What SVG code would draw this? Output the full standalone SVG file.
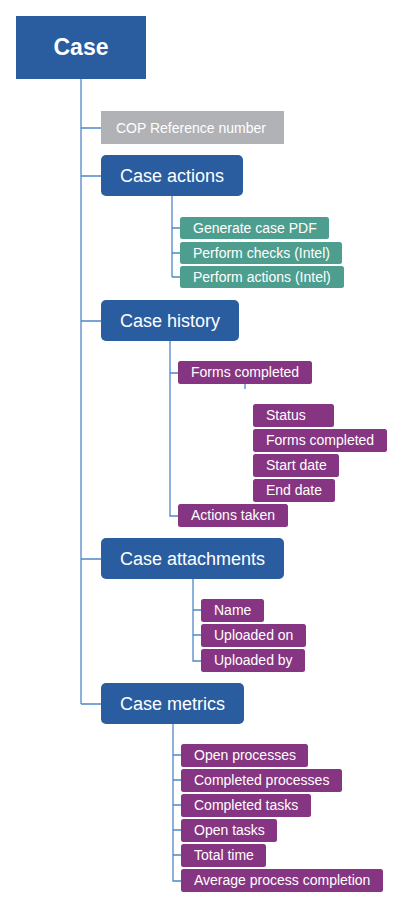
<svg xmlns="http://www.w3.org/2000/svg" width="403" height="908" viewBox="0 0 403 908">
<style>
.l{fill:none;stroke:#4f87c6;stroke-width:1.3}
.blue{fill:#2a5d9f}
.green{fill:#4e9e8f}
.purple{fill:#863582}
.gray{fill:#b1b2b5}
text{font-family:"Liberation Sans",Arial,sans-serif;fill:#fff}
.h{font-size:18px}
.s{font-size:14px}
.t{font-size:23px;font-weight:bold}
</style>
<rect width="403" height="908" fill="#fff"/>
<g id="connectors">
<path class="l" d="M81 79V704M81 128H101M81 176H101M81 321H101M81 559H101M81 704H101"/>
<path class="l" d="M172 196V277M172 228H180M172 253H180M172 277H180"/>
<path class="l" d="M170 341V516H178M170 373H178M245 384V389"/>
<path class="l" d="M193 579V661H201M193 610H201M193 635H201"/>
<path class="l" d="M173 724V881H181M173 755H181M173 780H181M173 805H181M173 830H181M173 855H181"/>
</g>
<g id="case"><rect class="blue" x="16" y="16" width="130" height="63"/><text class="t" x="81" y="55" text-anchor="middle">Case</text></g>
<g id="cop"><rect class="gray" x="101" y="111" width="183" height="33"/><text class="s" x="116" y="133" fill="#f2f2f2">COP Reference number</text></g>
<g id="case-actions"><rect class="blue" x="101" y="155" width="142" height="41" rx="5"/><text class="h" x="120" y="182">Case actions</text></g>
<g id="gen-pdf"><rect class="green" x="180" y="217" width="149" height="22" rx="2.5"/><text class="s" x="193" y="233">Generate case PDF</text></g>
<g id="perf-checks"><rect class="green" x="180" y="242" width="162" height="22" rx="2.5"/><text class="s" x="193" y="258">Perform checks (Intel)</text></g>
<g id="perf-actions"><rect class="green" x="180" y="266" width="164" height="22" rx="2.5"/><text class="s" x="193" y="282">Perform actions (Intel)</text></g>
<g id="case-history"><rect class="blue" x="101" y="300" width="138" height="41" rx="5"/><text class="h" x="120" y="327">Case history</text></g>
<g id="forms-completed"><rect class="purple" x="178" y="361" width="134" height="23" rx="2.5"/><text class="s" x="191" y="377">Forms completed</text></g>
<g id="status"><rect class="purple" x="253" y="404" width="81" height="23" rx="2.5"/><text class="s" x="266" y="420">Status</text></g>
<g id="forms-completed-2"><rect class="purple" x="253" y="429" width="134" height="23" rx="2.5"/><text class="s" x="266" y="445">Forms completed</text></g>
<g id="start-date"><rect class="purple" x="253" y="454" width="86" height="23" rx="2.5"/><text class="s" x="266" y="470">Start date</text></g>
<g id="end-date"><rect class="purple" x="253" y="479" width="82" height="23" rx="2.5"/><text class="s" x="266" y="495">End date</text></g>
<g id="actions-taken"><rect class="purple" x="178" y="504" width="110" height="23" rx="2.5"/><text class="s" x="191" y="520">Actions taken</text></g>
<g id="case-attachments"><rect class="blue" x="101" y="538" width="183" height="41" rx="5"/><text class="h" x="120" y="565">Case attachments</text></g>
<g id="name"><rect class="purple" x="201" y="599" width="63" height="23" rx="2.5"/><text class="s" x="214" y="615">Name</text></g>
<g id="uploaded-on"><rect class="purple" x="201" y="624" width="105" height="23" rx="2.5"/><text class="s" x="214" y="640">Uploaded on</text></g>
<g id="uploaded-by"><rect class="purple" x="201" y="649" width="104" height="23" rx="2.5"/><text class="s" x="214" y="665">Uploaded by</text></g>
<g id="case-metrics"><rect class="blue" x="101" y="683" width="143" height="41" rx="5"/><text class="h" x="120" y="710">Case metrics</text></g>
<g id="open-processes"><rect class="purple" x="181" y="744" width="127" height="23" rx="2.5"/><text class="s" x="194" y="760">Open processes</text></g>
<g id="completed-processes"><rect class="purple" x="181" y="769" width="161" height="23" rx="2.5"/><text class="s" x="194" y="785">Completed processes</text></g>
<g id="completed-tasks"><rect class="purple" x="181" y="794" width="130" height="23" rx="2.5"/><text class="s" x="194" y="810">Completed tasks</text></g>
<g id="open-tasks"><rect class="purple" x="181" y="819" width="96" height="23" rx="2.5"/><text class="s" x="194" y="835">Open tasks</text></g>
<g id="total-time"><rect class="purple" x="181" y="844" width="85" height="23" rx="2.5"/><text class="s" x="194" y="860">Total time</text></g>
<g id="avg-completion"><rect class="purple" x="181" y="869" width="202" height="23" rx="2.5"/><text class="s" x="194" y="885">Average process completion</text></g>
</svg>
